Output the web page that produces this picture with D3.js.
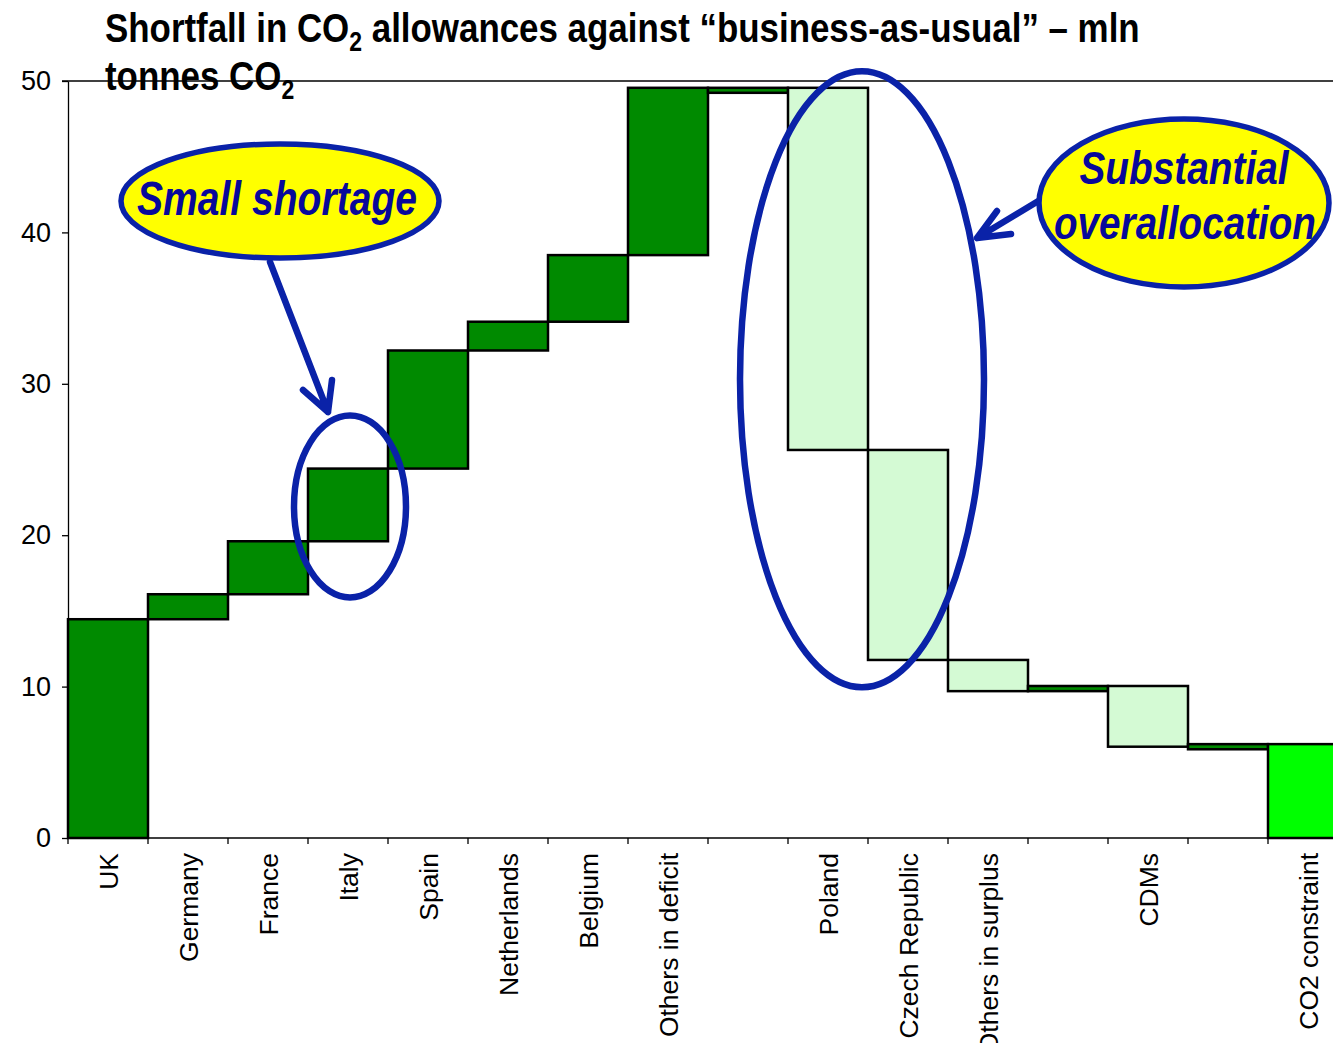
<!DOCTYPE html>
<html>
<head>
<meta charset="utf-8">
<script src="https://cdn.jsdelivr.net/npm/d3@7"></script>
<style>
  html, body { margin: 0; padding: 0; background: #fff; overflow: hidden; }
  svg { display: block; }
</style>
</head>
<body>
<svg id="chart" width="1333" height="1043"></svg>
<script>
// Waterfall of CO2 allowance shortfall / surplus by country, mln tonnes CO2
const categories = ["UK", "Germany", "France", "Italy", "Spain", "Netherlands", "Belgium",
  "Others in deficit", "", "Poland", "Czech Republic", "Others in surplus", "", "CDMs", "", "CO2 constraint"];
// bottom and top of each floating bar
const barLow  = [0, 14.45, 16.1, 19.6, 24.4, 32.2, 34.1, 38.5, 49.22, 25.63, 11.76, 9.7, 9.7, 6.03, 5.86, 0];
const barHigh = [14.45, 16.1, 19.6, 24.4, 32.2, 34.1, 38.5, 49.55, 49.55, 49.55, 25.63, 11.76, 10.04, 10.04, 6.2, 6.2];
const barType = ["short", "short", "short", "short", "short", "short", "short", "short", "short",
  "surplus", "surplus", "surplus", "short", "surplus", "short", "total"];
const yTicks = [0, 10, 20, 30, 40, 50];

const fillByType = { short: "#008a00", surplus: "#d4fad4", total: "#00ff00" };
const blue = "#0a22a8";
const navy = "#08089a";

const svg = d3.select("#chart");
const margin = { left: 68, top: 81, bottom: 838 };
const bandW = 80;

const x = d3.scaleBand()
  .domain(d3.range(categories.length))
  .range([margin.left, margin.left + bandW * categories.length])
  .paddingInner(0).paddingOuter(0);

const y = d3.scaleLinear().domain([0, 50]).range([margin.bottom, margin.top]);

// y axis
const yAxis = svg.append("g")
  .attr("transform", `translate(${margin.left},0)`)
  .call(d3.axisLeft(y).tickValues(yTicks).tickSize(6).tickPadding(11).tickSizeOuter(0));
yAxis.select(".domain").attr("stroke", "#000").attr("stroke-width", 1.3);
yAxis.selectAll(".tick line").attr("stroke", "#000").attr("stroke-width", 1.3);
yAxis.selectAll(".tick text")
  .attr("font-family", "'Liberation Sans', Arial, sans-serif")
  .attr("font-size", 27).attr("fill", "#000");

// x axis with boundary ticks
const xAxisG = svg.append("g").attr("transform", `translate(0,${margin.bottom})`);
xAxisG.append("line")
  .attr("x1", margin.left).attr("x2", x.range()[1])
  .attr("stroke", "#000").attr("stroke-width", 1.3);
const bounds = d3.range(categories.length + 1).map(i => margin.left + i * x.bandwidth());
xAxisG.selectAll("line.tk").data(bounds).join("line")
  .attr("class", "tk")
  .attr("x1", d => d).attr("x2", d => d).attr("y1", 0).attr("y2", 6)
  .attr("stroke", "#000").attr("stroke-width", 1.3);
xAxisG.selectAll("text.lbl").data(categories).join("text")
  .attr("class", "lbl")
  .attr("transform", (d, i) => `translate(${x(i) + x.bandwidth() / 2},15) rotate(-90)`)
  .attr("text-anchor", "end")
  .attr("dy", "0.36em")
  .attr("font-family", "'Liberation Sans', Arial, sans-serif")
  .attr("font-size", 26.5)
  .attr("fill", "#000")
  .text(d => d);

// floating bars
svg.append("g").selectAll("rect").data(categories).join("rect")
  .attr("x", (d, i) => x(i))
  .attr("width", x.bandwidth())
  .attr("y", (d, i) => y(barHigh[i]))
  .attr("height", (d, i) => y(barLow[i]) - y(barHigh[i]))
  .attr("fill", (d, i) => fillByType[barType[i]])
  .attr("stroke", "#000")
  .attr("stroke-width", 2.5);

// top frame line at 50
svg.append("line")
  .attr("x1", margin.left - 6).attr("x2", x.range()[1])
  .attr("y1", y(50)).attr("y2", y(50))
  .attr("stroke", "#000").attr("stroke-width", 1.3);

// scale a text element horizontally about an x position
function fitWidth(sel, target, ox) {
  const w = sel.node().getBBox().width;
  const s = target / w;
  sel.attr("transform", `translate(${ox},0) scale(${s},1) translate(${-ox},0)`);
  return s;
}

// title
const titleFont = "'Liberation Sans Narrow', 'Arial Narrow', 'Liberation Sans', Arial, sans-serif";
const title = svg.append("g");
const t1 = title.append("text")
  .attr("x", 105).attr("y", 42)
  .attr("font-family", titleFont).attr("font-weight", "bold").attr("font-size", 41).attr("fill", "#000");
t1.append("tspan").text("Shortfall in CO");
t1.append("tspan").attr("font-size", 27).attr("dy", 9).text("2");
t1.append("tspan").attr("dy", -9).text(" allowances against \u201cbusiness-as-usual\u201d \u2013 mln");
const t2 = title.append("text")
  .attr("x", 105).attr("y", 90)
  .attr("font-family", titleFont).attr("font-weight", "bold").attr("font-size", 41).attr("fill", "#000");
t2.append("tspan").text("tonnes CO");
t2.append("tspan").attr("font-size", 27).attr("dy", 9).text("2");
const ts = fitWidth(t1, 1035, 105);
t2.attr("transform", `translate(105,0) scale(${ts},1) translate(-105,0)`);

// annotations
const ann = svg.append("g").attr("fill", "none").attr("stroke", blue).attr("stroke-width", 6.5)
  .attr("stroke-linecap", "round").attr("stroke-linejoin", "round");

// ring around Italy
ann.append("ellipse").attr("cx", x(3) + x.bandwidth() / 2 + 2).attr("cy", y(21.9)).attr("rx", 56).attr("ry", 91);
// ring around Poland / Czech Republic
ann.append("ellipse").attr("cx", x(10) - 6).attr("cy", y(30.3)).attr("rx", 122).attr("ry", 308);

// arrows
ann.append("path").attr("d", "M270,262 L328,412 M303,390 L328,412 L332,380");
ann.append("path").attr("d", "M1040,200 L977,238 M997,211 L977,238 L1011,234");

const calloutFont = "'Liberation Sans Narrow', 'Arial Narrow', 'Liberation Sans', Arial, sans-serif";
// "Small shortage" bubble
svg.append("ellipse").attr("cx", 280).attr("cy", 201).attr("rx", 159).attr("ry", 57)
  .attr("fill", "#ffff00").attr("stroke", blue).attr("stroke-width", 5.5);
const c1 = svg.append("text").attr("x", 277).attr("y", 215).attr("text-anchor", "middle")
  .attr("font-family", calloutFont).attr("font-weight", "bold").attr("font-style", "italic")
  .attr("font-size", 48).attr("fill", navy).text("Small shortage");
fitWidth(c1, 280, 277);

// "Substantial overallocation" bubble
svg.append("ellipse").attr("cx", 1184).attr("cy", 203).attr("rx", 145).attr("ry", 84)
  .attr("fill", "#ffff00").attr("stroke", blue).attr("stroke-width", 5.5);
const c2 = svg.append("text").attr("x", 1184).attr("y", 184).attr("text-anchor", "middle")
  .attr("font-family", calloutFont).attr("font-weight", "bold").attr("font-style", "italic")
  .attr("font-size", 47).attr("fill", navy).text("Substantial");
const c3 = svg.append("text").attr("x", 1185).attr("y", 239).attr("text-anchor", "middle")
  .attr("font-family", calloutFont).attr("font-weight", "bold").attr("font-style", "italic")
  .attr("font-size", 47).attr("fill", navy).text("overallocation");
fitWidth(c2, 210, 1184);
fitWidth(c3, 262, 1185);
</script>
</body>
</html>
